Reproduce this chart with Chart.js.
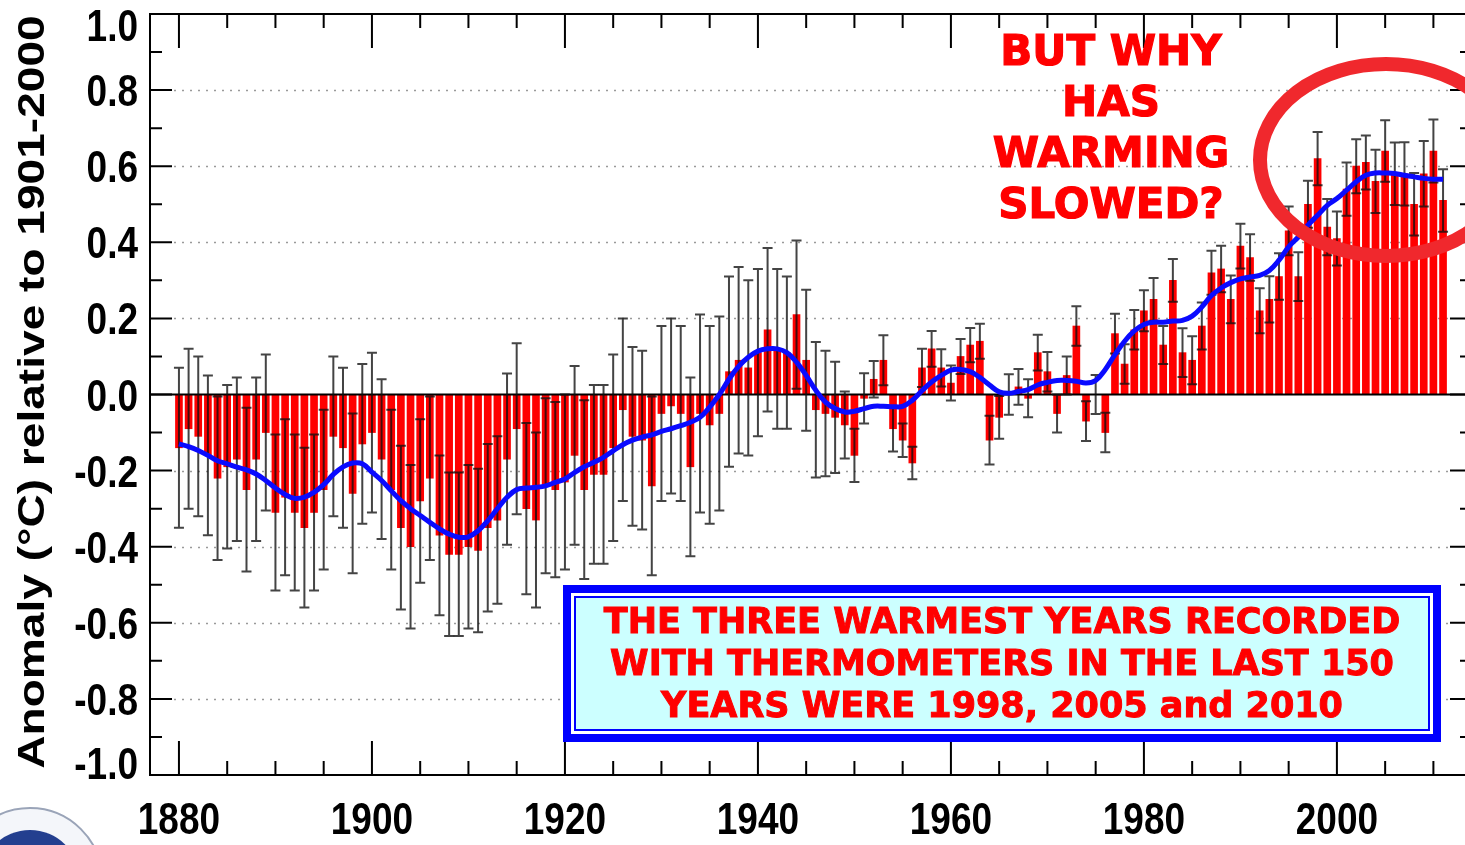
<!DOCTYPE html>
<html>
<head>
<meta charset="utf-8">
<script src="https://cdn.jsdelivr.net/npm/chart.js@4.4.1/dist/chart.umd.min.js"></script>
<style>
  html, body { margin: 0; padding: 0; background: #fff; overflow: hidden; }
  #wrap { position: relative; width: 1480px; height: 845px; }
</style>
</head>
<body>
<div id="wrap"><canvas id="chart" width="1480" height="845"></canvas></div>
<script>
// annual anomaly, 1880 - 2011
const firstYear = 1880
const anomaly = [
  -0.14, -0.09, -0.11, -0.16, -0.22, -0.19, -0.17, -0.25, -0.17, -0.10,
  -0.31, -0.27, -0.31, -0.35, -0.31, -0.25, -0.11, -0.14, -0.26, -0.13,
  -0.10, -0.17, -0.25, -0.35, -0.40, -0.28, -0.22, -0.37, -0.42, -0.42,
  -0.40, -0.41, -0.35, -0.33, -0.17, -0.09, -0.30, -0.33, -0.24, -0.25,
  -0.23, -0.16, -0.25, -0.21, -0.21, -0.14, -0.04, -0.11, -0.12, -0.24,
  -0.05, -0.03, -0.05, -0.19, -0.05, -0.08, -0.05, 0.06, 0.09, 0.07,
  0.11, 0.17, 0.12, 0.11, 0.21, 0.09, -0.04, -0.05, -0.06, -0.08,
  -0.16, -0.01, 0.04, 0.09, -0.09, -0.12, -0.18, 0.07, 0.12, 0.07,
  0.03, 0.10, 0.13, 0.14, -0.12, -0.06, 0.00, 0.02, -0.01, 0.11,
  0.06, -0.05, 0.05, 0.18, -0.07, 0.00, -0.10, 0.16, 0.08, 0.17,
  0.22, 0.25, 0.13, 0.30, 0.11, 0.09, 0.18, 0.32, 0.33, 0.25,
  0.39, 0.36, 0.22, 0.25, 0.31, 0.43, 0.31, 0.50, 0.62, 0.44,
  0.41, 0.54, 0.60, 0.61, 0.56, 0.64, 0.58, 0.58, 0.50, 0.58,
  0.64, 0.51
]
// half length of the uncertainty bars
const uncertainty = [
  0.21, 0.21, 0.21, 0.21, 0.215, 0.215, 0.215, 0.215, 0.215, 0.205,
  0.205, 0.205, 0.205, 0.21, 0.205, 0.21, 0.21, 0.21, 0.21, 0.21,
  0.21, 0.21, 0.21, 0.215, 0.215, 0.215, 0.215, 0.21, 0.215, 0.215,
  0.215, 0.215, 0.22, 0.22, 0.225, 0.225, 0.225, 0.23, 0.23, 0.23,
  0.23, 0.235, 0.235, 0.235, 0.235, 0.245, 0.24, 0.235, 0.235, 0.235,
  0.23, 0.23, 0.23, 0.235, 0.26, 0.26, 0.255, 0.25, 0.245, 0.23,
  0.22, 0.215, 0.21, 0.2, 0.195, 0.185, 0.178, 0.165, 0.146, 0.088,
  0.07, 0.066, 0.048, 0.066, 0.06, 0.044, 0.043, 0.05, 0.047, 0.049,
  0.046, 0.046, 0.045, 0.046, 0.064, 0.056, 0.053, 0.047, 0.05, 0.047,
  0.052, 0.05, 0.05, 0.052, 0.052, 0.051, 0.052, 0.052, 0.052, 0.052,
  0.054, 0.056, 0.05, 0.056, 0.064, 0.063, 0.062, 0.058, 0.061, 0.063,
  0.059, 0.061, 0.059, 0.061, 0.061, 0.064, 0.064, 0.062, 0.07, 0.074,
  0.071, 0.07, 0.071, 0.071, 0.083, 0.081, 0.082, 0.083, 0.082, 0.086,
  0.083, 0.082
]
// smoothed curve (blue)
const smoothed = [
  -0.130, -0.137, -0.147, -0.160, -0.174, -0.182, -0.191, -0.198, -0.209, -0.226,
  -0.246, -0.263, -0.273, -0.270, -0.257, -0.237, -0.210, -0.190, -0.180, -0.182,
  -0.204, -0.226, -0.253, -0.279, -0.300, -0.318, -0.336, -0.353, -0.367, -0.375,
  -0.374, -0.358, -0.332, -0.300, -0.270, -0.250, -0.246, -0.244, -0.240, -0.231,
  -0.222, -0.205, -0.190, -0.178, -0.165, -0.148, -0.132, -0.120, -0.112, -0.106,
  -0.097, -0.090, -0.082, -0.073, -0.060, -0.033, 0.000, 0.040, 0.074, 0.098,
  0.114, 0.120, 0.120, 0.110, 0.085, 0.050, 0.011, -0.020, -0.037, -0.046,
  -0.044, -0.037, -0.031, -0.031, -0.032, -0.031, -0.015, 0.010, 0.033, 0.050,
  0.064, 0.066, 0.060, 0.045, 0.025, 0.007, 0.003, 0.008, 0.013, 0.025,
  0.032, 0.037, 0.037, 0.035, 0.030, 0.037, 0.066, 0.105, 0.140, 0.167,
  0.184, 0.190, 0.190, 0.193, 0.195, 0.206, 0.230, 0.260, 0.280, 0.294,
  0.304, 0.309, 0.313, 0.326, 0.353, 0.388, 0.414, 0.445, 0.471, 0.497,
  0.515, 0.537, 0.559, 0.576, 0.582, 0.582, 0.581, 0.576, 0.572, 0.568,
  0.566, 0.566
]
const years = anomaly.map((v, i) => firstYear + i)

const xTickYears = [1880, 1900, 1920, 1940, 1960, 1980, 2000]
const yTickValues = [1.0, 0.8, 0.6, 0.4, 0.2, 0.0, -0.2, -0.4, -0.6, -0.8, -1.0]
const yTickLabels = ["1.0", "0.8", "0.6", "0.4", "0.2", "0.0", "-0.2", "-0.4", "-0.6", "-0.8", "-1.0"]
const yTitle = "Anomaly (\u00B0C) relative to 1901-2000"
const questionLines = ["BUT WHY", "HAS", "WARMING", "SLOWED?"]
const boxLines = ["THE THREE WARMEST YEARS RECORDED", "WITH THERMOMETERS IN THE LAST 150", "YEARS WERE 1998, 2005 and 2010"]

const labelFont = "bold 37px 'Liberation Sans', Arial, sans-serif"
const noteFont = "'DejaVu Sans', sans-serif"

// heavy text: fill plus a thin outline of the same colour
function heavyText(ctx, t, x, y) {
  ctx.fillText(t, x, y)
  ctx.strokeText(t, x, y)
}

// grid, error bars, frame, ticks and notes
const decor = {
  id: "decor",
  beforeDatasetsDraw(chart) {
    const { ctx, chartArea: a, scales: { y } } = chart
    ctx.save()
    ctx.strokeStyle = "#9a9a9a"
    ctx.lineWidth = 1.5
    ctx.setLineDash([2, 6])
    yTickValues.forEach(v => {
      if (Math.abs(v) < 0.01 || Math.abs(v) > 0.99) return
      const py = Math.round(y.getPixelForValue(v)) + 0.5
      ctx.beginPath()
      ctx.moveTo(a.left + 24, py)
      ctx.lineTo(a.right - 24, py)
      ctx.stroke()
    })
    ctx.restore()
  },
  afterDatasetDraw(chart, args) {
    if (args.index !== 1) return
    const { ctx, chartArea: a, scales: { x, y } } = chart
    ctx.save()
    // zero line
    ctx.strokeStyle = "#000"
    ctx.lineWidth = 2
    ctx.beginPath()
    ctx.moveTo(a.left, y.getPixelForValue(0))
    ctx.lineTo(a.right, y.getPixelForValue(0))
    ctx.stroke()
    // uncertainty bars
    ctx.strokeStyle = "rgba(15,15,15,0.78)"
    ctx.lineWidth = 2
    years.forEach((yr, i) => {
      const px = x.getPixelForValue(yr)
      const top = y.getPixelForValue(anomaly[i] + uncertainty[i])
      const bot = y.getPixelForValue(anomaly[i] - uncertainty[i])
      ctx.beginPath()
      ctx.moveTo(px, top)
      ctx.lineTo(px, bot)
      ctx.moveTo(px - 5, top)
      ctx.lineTo(px + 5, top)
      ctx.moveTo(px - 5, bot)
      ctx.lineTo(px + 5, bot)
      ctx.stroke()
    })
    ctx.restore()
  },
  afterDraw(chart) {
    const { ctx, chartArea: a, scales: { x, y } } = chart
    ctx.save()
    // frame
    ctx.strokeStyle = "#000"
    ctx.lineWidth = 2
    ctx.strokeRect(a.left, a.top, a.right - a.left, a.bottom - a.top)

    // x ticks every 5 years, long on the labelled years
    for (let yr = 1880; yr <= 2010; yr += 5) {
      const px = x.getPixelForValue(yr)
      const len = xTickYears.includes(yr) ? 34 : 14
      ctx.beginPath()
      ctx.moveTo(px, a.top)
      ctx.lineTo(px, a.top + len)
      ctx.moveTo(px, a.bottom)
      ctx.lineTo(px, a.bottom - len)
      ctx.stroke()
    }
    // y ticks every 0.1, long on the labelled values
    for (let k = -9; k <= 9; k++) {
      const py = y.getPixelForValue(k / 10)
      const len = k % 2 === 0 ? 22 : 12
      ctx.beginPath()
      ctx.moveTo(a.left, py)
      ctx.lineTo(a.left + len, py)
      ctx.moveTo(a.right, py)
      ctx.lineTo(a.right - len, py)
      ctx.stroke()
    }

    // tick labels (the picture is stretched vertically)
    ctx.fillStyle = "#000"
    ctx.font = labelFont
    ctx.textAlign = "right"
    ctx.textBaseline = "alphabetic"
    yTickValues.forEach((v, i) => {
      let py = y.getPixelForValue(v)
      if (v > 0.99) py += 11
      if (v < -0.99) py -= 12
      ctx.save()
      ctx.translate(138, py + 16)
      ctx.scale(1, 1.2)
      ctx.fillText(yTickLabels[i], 0, 0)
      ctx.restore()
    })
    ctx.textAlign = "center"
    xTickYears.forEach(yr => {
      ctx.save()
      ctx.translate(x.getPixelForValue(yr), 834)
      ctx.scale(1, 1.2)
      ctx.fillText(String(yr), 0, 0)
      ctx.restore()
    })

    // axis title
    ctx.save()
    ctx.translate(44, 392)
    ctx.rotate(-Math.PI / 2)
    ctx.scale(1.28, 1)
    ctx.font = "bold 36px 'Liberation Sans', Arial, sans-serif"
    ctx.fillText(yTitle, 0, 0)
    ctx.restore()

    // question
    ctx.fillStyle = "#ff0000"
    ctx.strokeStyle = "#ff0000"
    ctx.lineWidth = 1.2
    ctx.font = "bold 42px " + noteFont
    ctx.textBaseline = "middle"
    questionLines.forEach((t, i) => heavyText(ctx, t, 1111, 54 + i * 51))

    // red ellipse
    ctx.strokeStyle = "rgb(240,40,45)"
    ctx.lineWidth = 14
    ctx.beginPath()
    ctx.ellipse(1386, 160, 126, 96, 0, 0, Math.PI * 2)
    ctx.stroke()

    // blue box
    ctx.fillStyle = "#0000ff"
    ctx.fillRect(563, 585, 878, 157)
    ctx.fillStyle = "#ffffff"
    ctx.fillRect(571, 593, 862, 141)
    ctx.fillStyle = "#0000ff"
    ctx.fillRect(574, 596, 856, 135)
    ctx.fillStyle = "#ccffff"
    ctx.fillRect(576, 598, 852, 131)
    ctx.fillStyle = "#ff0000"
    ctx.strokeStyle = "#ff0000"
    ctx.lineWidth = 1
    ctx.font = "bold 35px " + noteFont
    boxLines.forEach((t, i) => heavyText(ctx, t, 1002, 624 + i * 42))

    // corner logo (cut off by the page edge)
    ctx.beginPath()
    ctx.arc(30, 880, 72, 0, Math.PI * 2)
    ctx.fillStyle = "#f4f6fa"
    ctx.fill()
    ctx.lineWidth = 2
    ctx.strokeStyle = "#9aa4b8"
    ctx.stroke()
    ctx.beginPath()
    ctx.arc(30, 880, 50, 0, Math.PI * 2)
    ctx.fillStyle = "#233f8f"
    ctx.fill()
    ctx.restore()
  }
}

new Chart(document.querySelector("#chart"), {
  type: "bar",
  data: {
    datasets: [
      {
        type: "line",
        data: years.map((yr, i) => ({ x: yr, y: smoothed[i] })),
        borderColor: "#0a0aff",
        borderWidth: 5,
        pointRadius: 0,
        tension: 0.4,
        order: 0,
      },
      {
        type: "bar",
        data: years.map((yr, i) => ({ x: yr, y: anomaly[i] })),
        backgroundColor: "#ff0000",
        barThickness: 7,
        order: 1,
      },
    ],
  },
  options: {
    responsive: false,
    animation: false,
    layout: { padding: { left: 150, top: 14, right: 8, bottom: 70 } },
    plugins: { legend: { display: false }, tooltip: { enabled: false } },
    scales: {
      x: { type: "linear", min: 1877, max: 2014, offset: false, display: false },
      y: { min: -1, max: 1, display: false },
    },
  },
  plugins: [decor],
})
</script>
</body>
</html>
